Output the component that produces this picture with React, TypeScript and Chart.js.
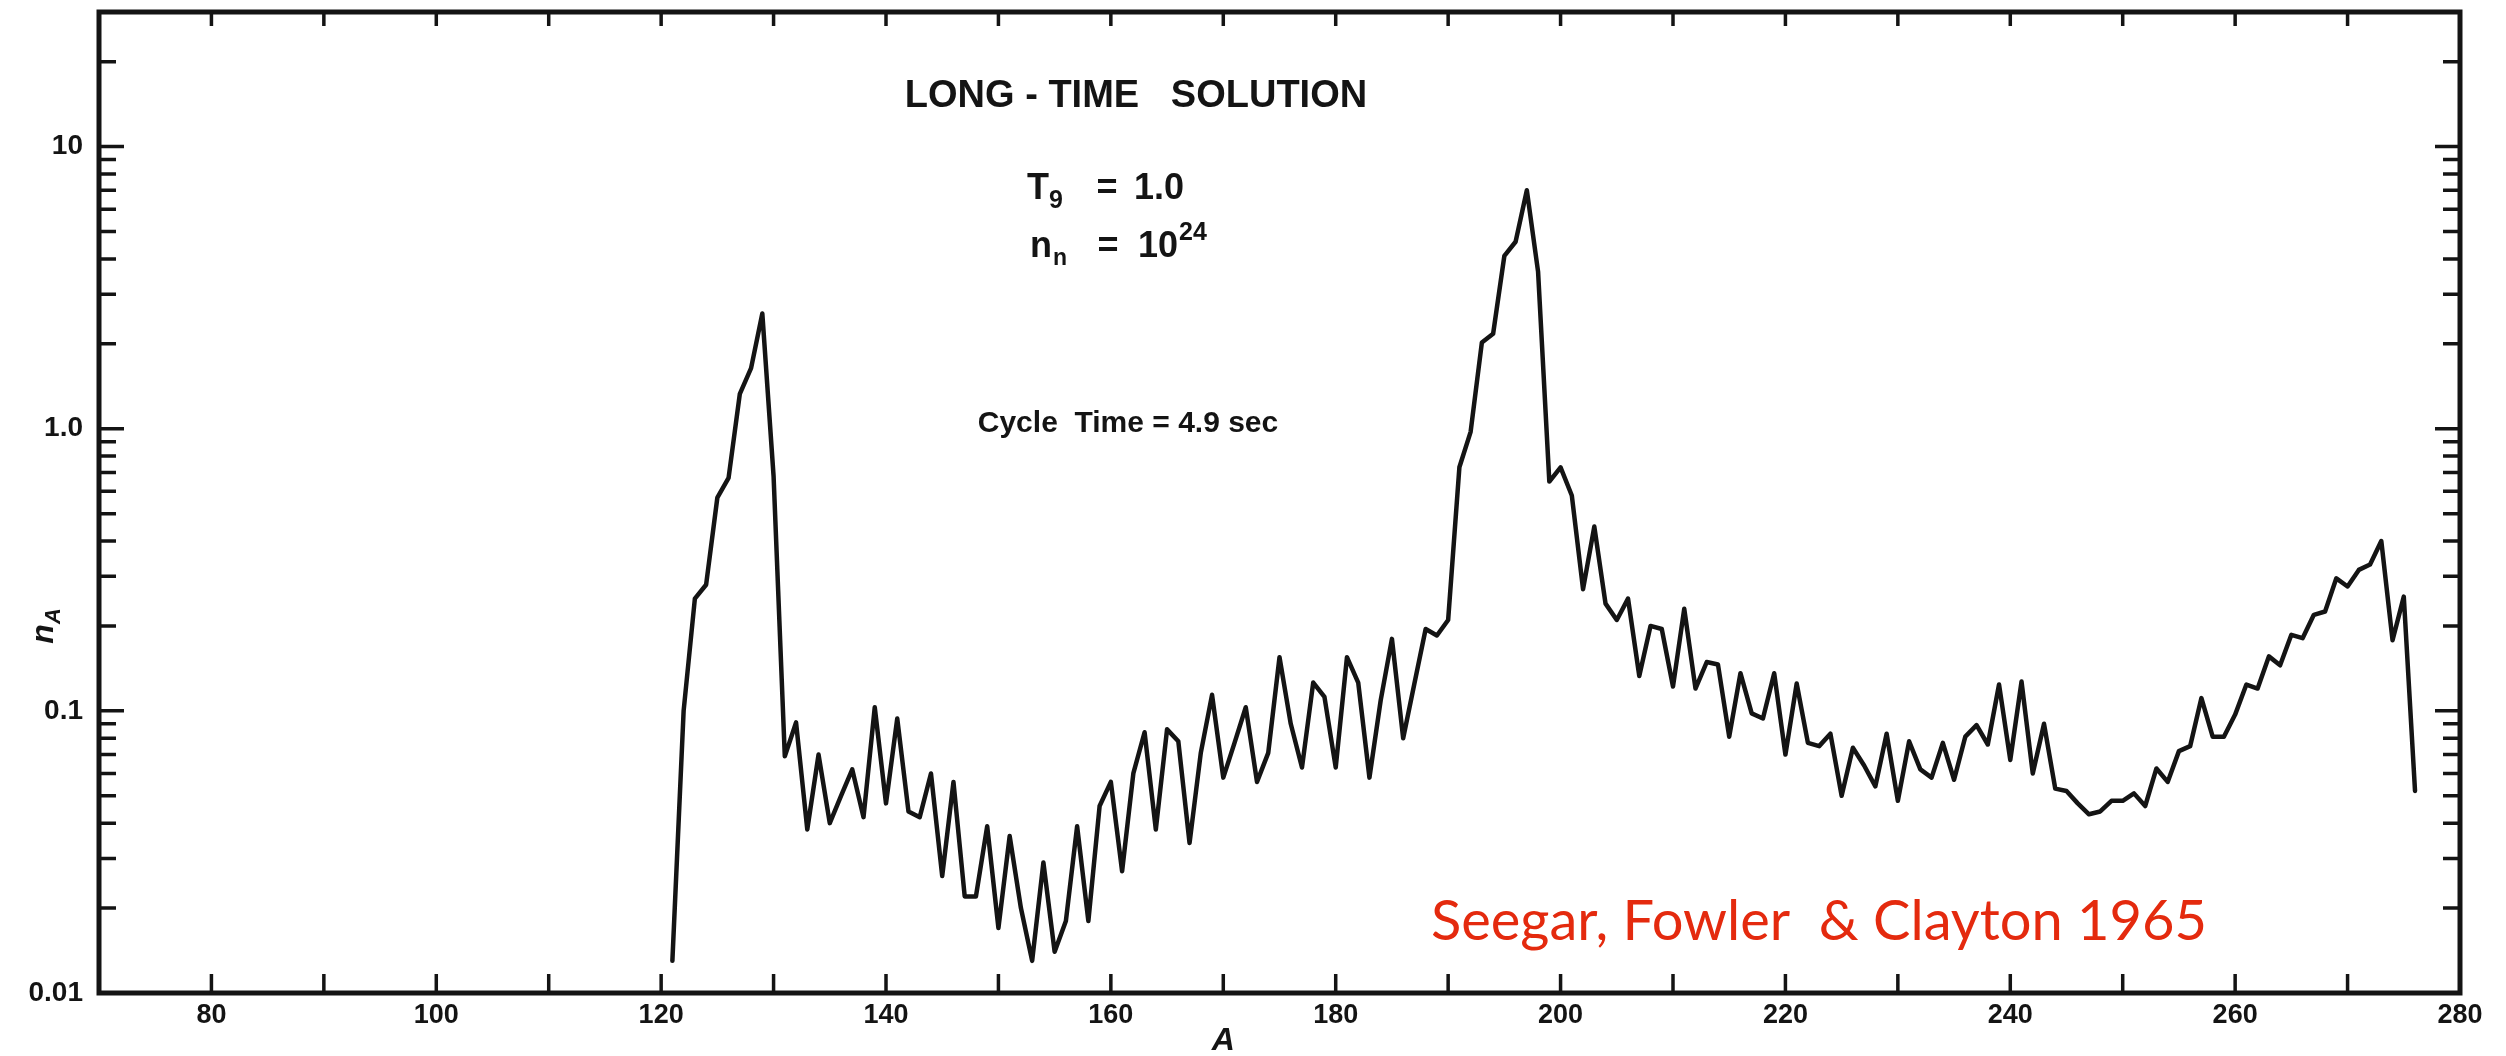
import React, { useEffect, useRef } from "react";
import { Chart, registerables } from "chart.js";

Chart.register(...registerables);

// Mass numbers A (x categories)
const massNumbers = [
  121, 122, 123, 124, 125, 126, 127, 128, 129, 130,
  131, 132, 133, 134, 135, 136, 137, 138, 139, 140,
  141, 142, 143, 144, 145, 146, 147, 148, 149, 150,
  151, 152, 153, 154, 155, 156, 157, 158, 159, 160,
  161, 162, 163, 164, 165, 166, 167, 168, 169, 170,
  171, 172, 173, 174, 175, 176, 177, 178, 179, 180,
  181, 182, 183, 184, 185, 186, 187, 188, 189, 190,
  191, 192, 193, 194, 195, 196, 197, 198, 199, 200,
  201, 202, 203, 204, 205, 206, 207, 208, 209, 210,
  211, 212, 213, 214, 215, 216, 217, 218, 219, 220,
  221, 222, 223, 224, 225, 226, 227, 228, 229, 230,
  231, 232, 233, 234, 235, 236, 237, 238, 239, 240,
  241, 242, 243, 244, 245, 246, 247, 248, 249, 250,
  251, 252, 253, 254, 255, 256, 257, 258, 259, 260,
  261, 262, 263, 264, 265, 266, 267, 268, 269, 270,
  271, 272, 273, 274, 275, 276,
];

// Abundance n_A
const abundances = [
  0.013, 0.10, 0.25, 0.28, 0.57, 0.67, 1.33, 1.64, 2.56, 0.68,
  0.069, 0.091, 0.038, 0.070, 0.040, 0.050, 0.062, 0.042, 0.103, 0.047,
  0.094, 0.044, 0.042, 0.060, 0.026, 0.056, 0.022, 0.022, 0.039, 0.017,
  0.036, 0.020, 0.013, 0.029, 0.014, 0.018, 0.039, 0.018, 0.046, 0.056,
  0.027, 0.060, 0.084, 0.038, 0.086, 0.078, 0.034, 0.071, 0.114, 0.058,
  0.077, 0.103, 0.056, 0.071, 0.155, 0.090, 0.063, 0.126, 0.112, 0.063,
  0.155, 0.126, 0.058, 0.109, 0.18, 0.080, 0.125, 0.195, 0.185, 0.21,
  0.73, 0.975, 2.02, 2.17, 4.1, 4.6, 7.0, 3.6, 0.65, 0.73,
  0.58, 0.27, 0.45, 0.24, 0.21, 0.25, 0.133, 0.20, 0.195, 0.122,
  0.23, 0.12, 0.149, 0.146, 0.081, 0.136, 0.098, 0.094, 0.136, 0.070,
  0.125, 0.077, 0.075, 0.083, 0.050, 0.074, 0.064, 0.054, 0.083, 0.048,
  0.078, 0.062, 0.058, 0.077, 0.057, 0.081, 0.089, 0.076, 0.124, 0.067,
  0.127, 0.060, 0.090, 0.053, 0.052, 0.047, 0.043, 0.044, 0.048, 0.048,
  0.051, 0.046, 0.0625, 0.056, 0.072, 0.075, 0.111, 0.081, 0.081, 0.097,
  0.124, 0.12, 0.156, 0.145, 0.186, 0.181, 0.219, 0.225, 0.295, 0.276,
  0.316, 0.33, 0.40, 0.178, 0.254, 0.052,
];

const xMin = 70;
const xMax = 280;
const yMin = 0.01;
const yMax = 30;
const xTickMarks = [80, 90, 100, 110, 120, 130, 140, 150, 160, 170, 180, 190, 200, 210, 220, 230, 240, 250, 260, 270];
const xTickLabels = [80, 100, 120, 140, 160, 180, 200, 220, 240, 260, 280];
const yTickValues = [0.01, 0.1, 1, 10];
const yTickLabels = ["0.01", "0.1", "1.0", "10"];
const yMinorMultipliers = [2, 3, 4, 5, 6, 7, 8, 9];

const W = 2506;
const H = 1056;
const INK = "#141414";
const RED = "#e42a0e";
const FONT = "'Liberation Sans', Arial, sans-serif";

export default function App() {
  const ref = useRef<HTMLCanvasElement | null>(null);

  useEffect(() => {
    document.body.style.margin = "0";
    const canvas = ref.current;
    if (!canvas) return;

    const framePlugin = {
      id: "framePlugin",
      afterDraw(chart: any) {
        const ctx = chart.ctx as CanvasRenderingContext2D;
        const { left, right, top, bottom } = chart.chartArea;
        const xs = chart.scales.x;
        const ys = chart.scales.y;
        ctx.save();
        ctx.strokeStyle = INK;
        ctx.lineWidth = 5;
        ctx.strokeRect(left, top, right - left, bottom - top);

        ctx.lineWidth = 3.5;
        ctx.beginPath();
        for (const v of xTickMarks) {
          const px = xs.getPixelForValue(v);
          ctx.moveTo(px, bottom);
          ctx.lineTo(px, bottom - 19);
          ctx.moveTo(px, top);
          ctx.lineTo(px, top + 14);
        }
        for (const d of yTickValues) {
          for (const m of [1, ...yMinorMultipliers]) {
            const v = d * m;
            if (v >= yMax * 0.999) continue;
            const py = ys.getPixelForValue(v);
            const len = m === 1 ? 25 : 17;
            ctx.moveTo(left, py);
            ctx.lineTo(left + len, py);
            ctx.moveTo(right, py);
            ctx.lineTo(right - len, py);
          }
        }
        ctx.stroke();

        // Annotation text
        ctx.fillStyle = INK;
        ctx.textBaseline = "middle";
        ctx.textAlign = "center";
        ctx.font = `bold 38px ${FONT}`;
        ctx.fillText("LONG - TIME   SOLUTION", 1136, 97);

        ctx.textAlign = "left";
        ctx.font = `bold 36px ${FONT}`;
        ctx.fillText("T", 1027, 189);
        ctx.font = `bold 25px ${FONT}`;
        ctx.fillText("9", 1049, 201);
        ctx.font = `bold 36px ${FONT}`;
        ctx.textAlign = "center";
        ctx.fillText("=", 1107, 189);
        ctx.textAlign = "left";
        ctx.fillText("1.0", 1134, 189);

        ctx.font = `bold 36px ${FONT}`;
        ctx.fillText("n", 1030, 247);
        ctx.font = `bold 23px ${FONT}`;
        ctx.fillText("n", 1053, 259);
        ctx.font = `bold 36px ${FONT}`;
        ctx.textAlign = "center";
        ctx.fillText("=", 1108, 247);
        ctx.textAlign = "left";
        ctx.fillText("10", 1138, 247);
        const tenW = ctx.measureText("10").width;
        ctx.font = `bold 25px ${FONT}`;
        ctx.fillText("24", 1138 + tenW + 1, 233);

        ctx.textAlign = "center";
        ctx.font = `bold 30px ${FONT}`;
        ctx.fillText("Cycle  Time = 4.9 sec", 1128, 424);

        // Axis titles
        ctx.font = `italic bold 32px ${FONT}`;
        ctx.fillText("A", xs.getPixelForValue(170), 1041);

        ctx.save();
        ctx.translate(44, ys.getPixelForValue(0.2));
        ctx.rotate(-Math.PI / 2);
        ctx.textAlign = "left";
        ctx.font = `italic bold 32px ${FONT}`;
        const nW = ctx.measureText("n").width;
        ctx.font = `italic bold 22px ${FONT}`;
        const aW = ctx.measureText("A").width;
        const start = -(nW + aW) / 2;
        ctx.font = `italic bold 32px ${FONT}`;
        ctx.fillText("n", start, 0);
        ctx.font = `italic bold 22px ${FONT}`;
        ctx.fillText("A", start + nW, 10);
        ctx.restore();

        // Citation
        ctx.fillStyle = RED;
        ctx.textAlign = "left";
        ctx.textBaseline = "alphabetic";
        ctx.font = "56px Lato, 'Open Sans', sans-serif";
        ctx.fillText("Seegar, Fowler  & Clayton 1965", 1431, 940);
        ctx.restore();
      },
    };

    const chart = new Chart(canvas, {
      type: "line",
      data: {
        datasets: [
          {
            data: massNumbers.map((a, i) => ({ x: a, y: abundances[i] })),
            borderColor: INK,
            borderWidth: 4.5,
            pointRadius: 0,
            tension: 0,
            fill: false,
            borderJoinStyle: "round",
            borderCapStyle: "round",
          },
        ],
      },
      options: {
        responsive: false,
        animation: false,
        devicePixelRatio: 1,
        layout: { padding: { top: 12, right: 46, left: 0, bottom: 0 } },
        plugins: {
          legend: { display: false },
          tooltip: { enabled: false },
          title: { display: false },
        },
        scales: {
          x: {
            type: "linear",
            min: xMin,
            max: xMax,
            border: { display: false },
            grid: { display: false, drawTicks: false },
            ticks: {
              stepSize: 10,
              autoSkip: false,
              maxRotation: 0,
              padding: 6,
              color: INK,
              font: { family: FONT, size: 27, weight: "bold" },
              callback: (v: any) => {
                const n = Math.round(Number(v));
                return xTickLabels.includes(n) ? String(n) : "";
              },
            },
            afterFit: (s: any) => {
              s.height = 63;
              s.paddingLeft = 0;
              s.paddingRight = 0;
            },
          },
          y: {
            type: "logarithmic",
            min: yMin,
            max: yMax,
            border: { display: false },
            grid: { display: false, drawTicks: false },
            ticks: {
              padding: 16,
              color: INK,
              font: { family: FONT, size: 28, weight: "bold" },
              callback: (v: any) => {
                const i = yTickValues.findIndex((t) => Math.abs(t - Number(v)) / t < 1e-6);
                return i >= 0 ? yTickLabels[i] : "";
              },
            },
            afterBuildTicks: (s: any) => {
              s.ticks = yTickValues.map((v) => ({ value: v }));
            },
            afterFit: (s: any) => {
              s.width = 99;
              s.paddingTop = 0;
              s.paddingBottom = 0;
            },
          },
        },
      } as any,
      plugins: [framePlugin],
    });

    return () => chart.destroy();
  }, []);

  return (
    <div style={{ width: W, height: H, background: "#fff" }}>
      <canvas ref={ref} width={W} height={H} style={{ display: "block", width: W, height: H }} />
    </div>
  );
}
